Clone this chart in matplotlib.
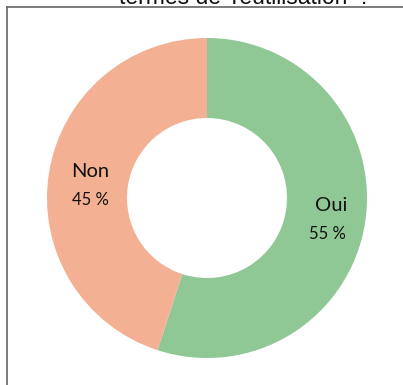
import matplotlib.pyplot as plt
from matplotlib.lines import Line2D

labels = ["Oui", "Non"]
values = [55, 45]
colors = ["#8fc895", "#f4b092"]

W, H = 403, 385
fig = plt.figure(figsize=(W / 100, H / 100), dpi=100)

# donut centred at (207, 198) px, outer radius 160 px
cx, cy, r = 207, 198, 160
ax = fig.add_axes([(cx - r) / W, 1 - (cy + r) / H, 2 * r / W, 2 * r / H])
wedges, _ = ax.pie(values, colors=colors, startangle=90, counterclock=False,
                   radius=1.0, wedgeprops=dict(width=0.5, edgecolor="none"))
ax.set_xlim(-1, 1)
ax.set_ylim(-1, 1)
ax.set_aspect("equal")
ax.axis("off")

# category name and share inside each ring segment
label_pos = {"Oui": (331, 206, 327, 234), "Non": (90, 172, 90, 200)}
for lab, v in zip(labels, values):
    x1, y1, x2, y2 = label_pos[lab]
    fig.text(x1 / W, 1 - y1 / H, lab, ha="center", va="center",
             fontsize=14.5, family="Lato", color="#111111")
    fig.text(x2 / W, 1 - y2 / H, f"{v} %", ha="center", va="center",
             fontsize=12, family="Lato", color="#111111")

# frame of the chart area
fig.add_artist(Line2D([7 / W, 7 / W], [0, 1 - 7 / H], transform=fig.transFigure,
                      color="#666666", lw=1.2))
fig.add_artist(Line2D([7 / W, 1], [1 - 7 / H, 1 - 7 / H], transform=fig.transFigure,
                      color="#666666", lw=1.2))

# title runs off the top edge
fig.text(245 / W, 1 + 3 / H, "termes de 'réutilisation' ?", ha="center", va="center",
         fontsize=16.5, family="Liberation Sans", color="#111111")

fig.savefig("out.png", dpi=100)
